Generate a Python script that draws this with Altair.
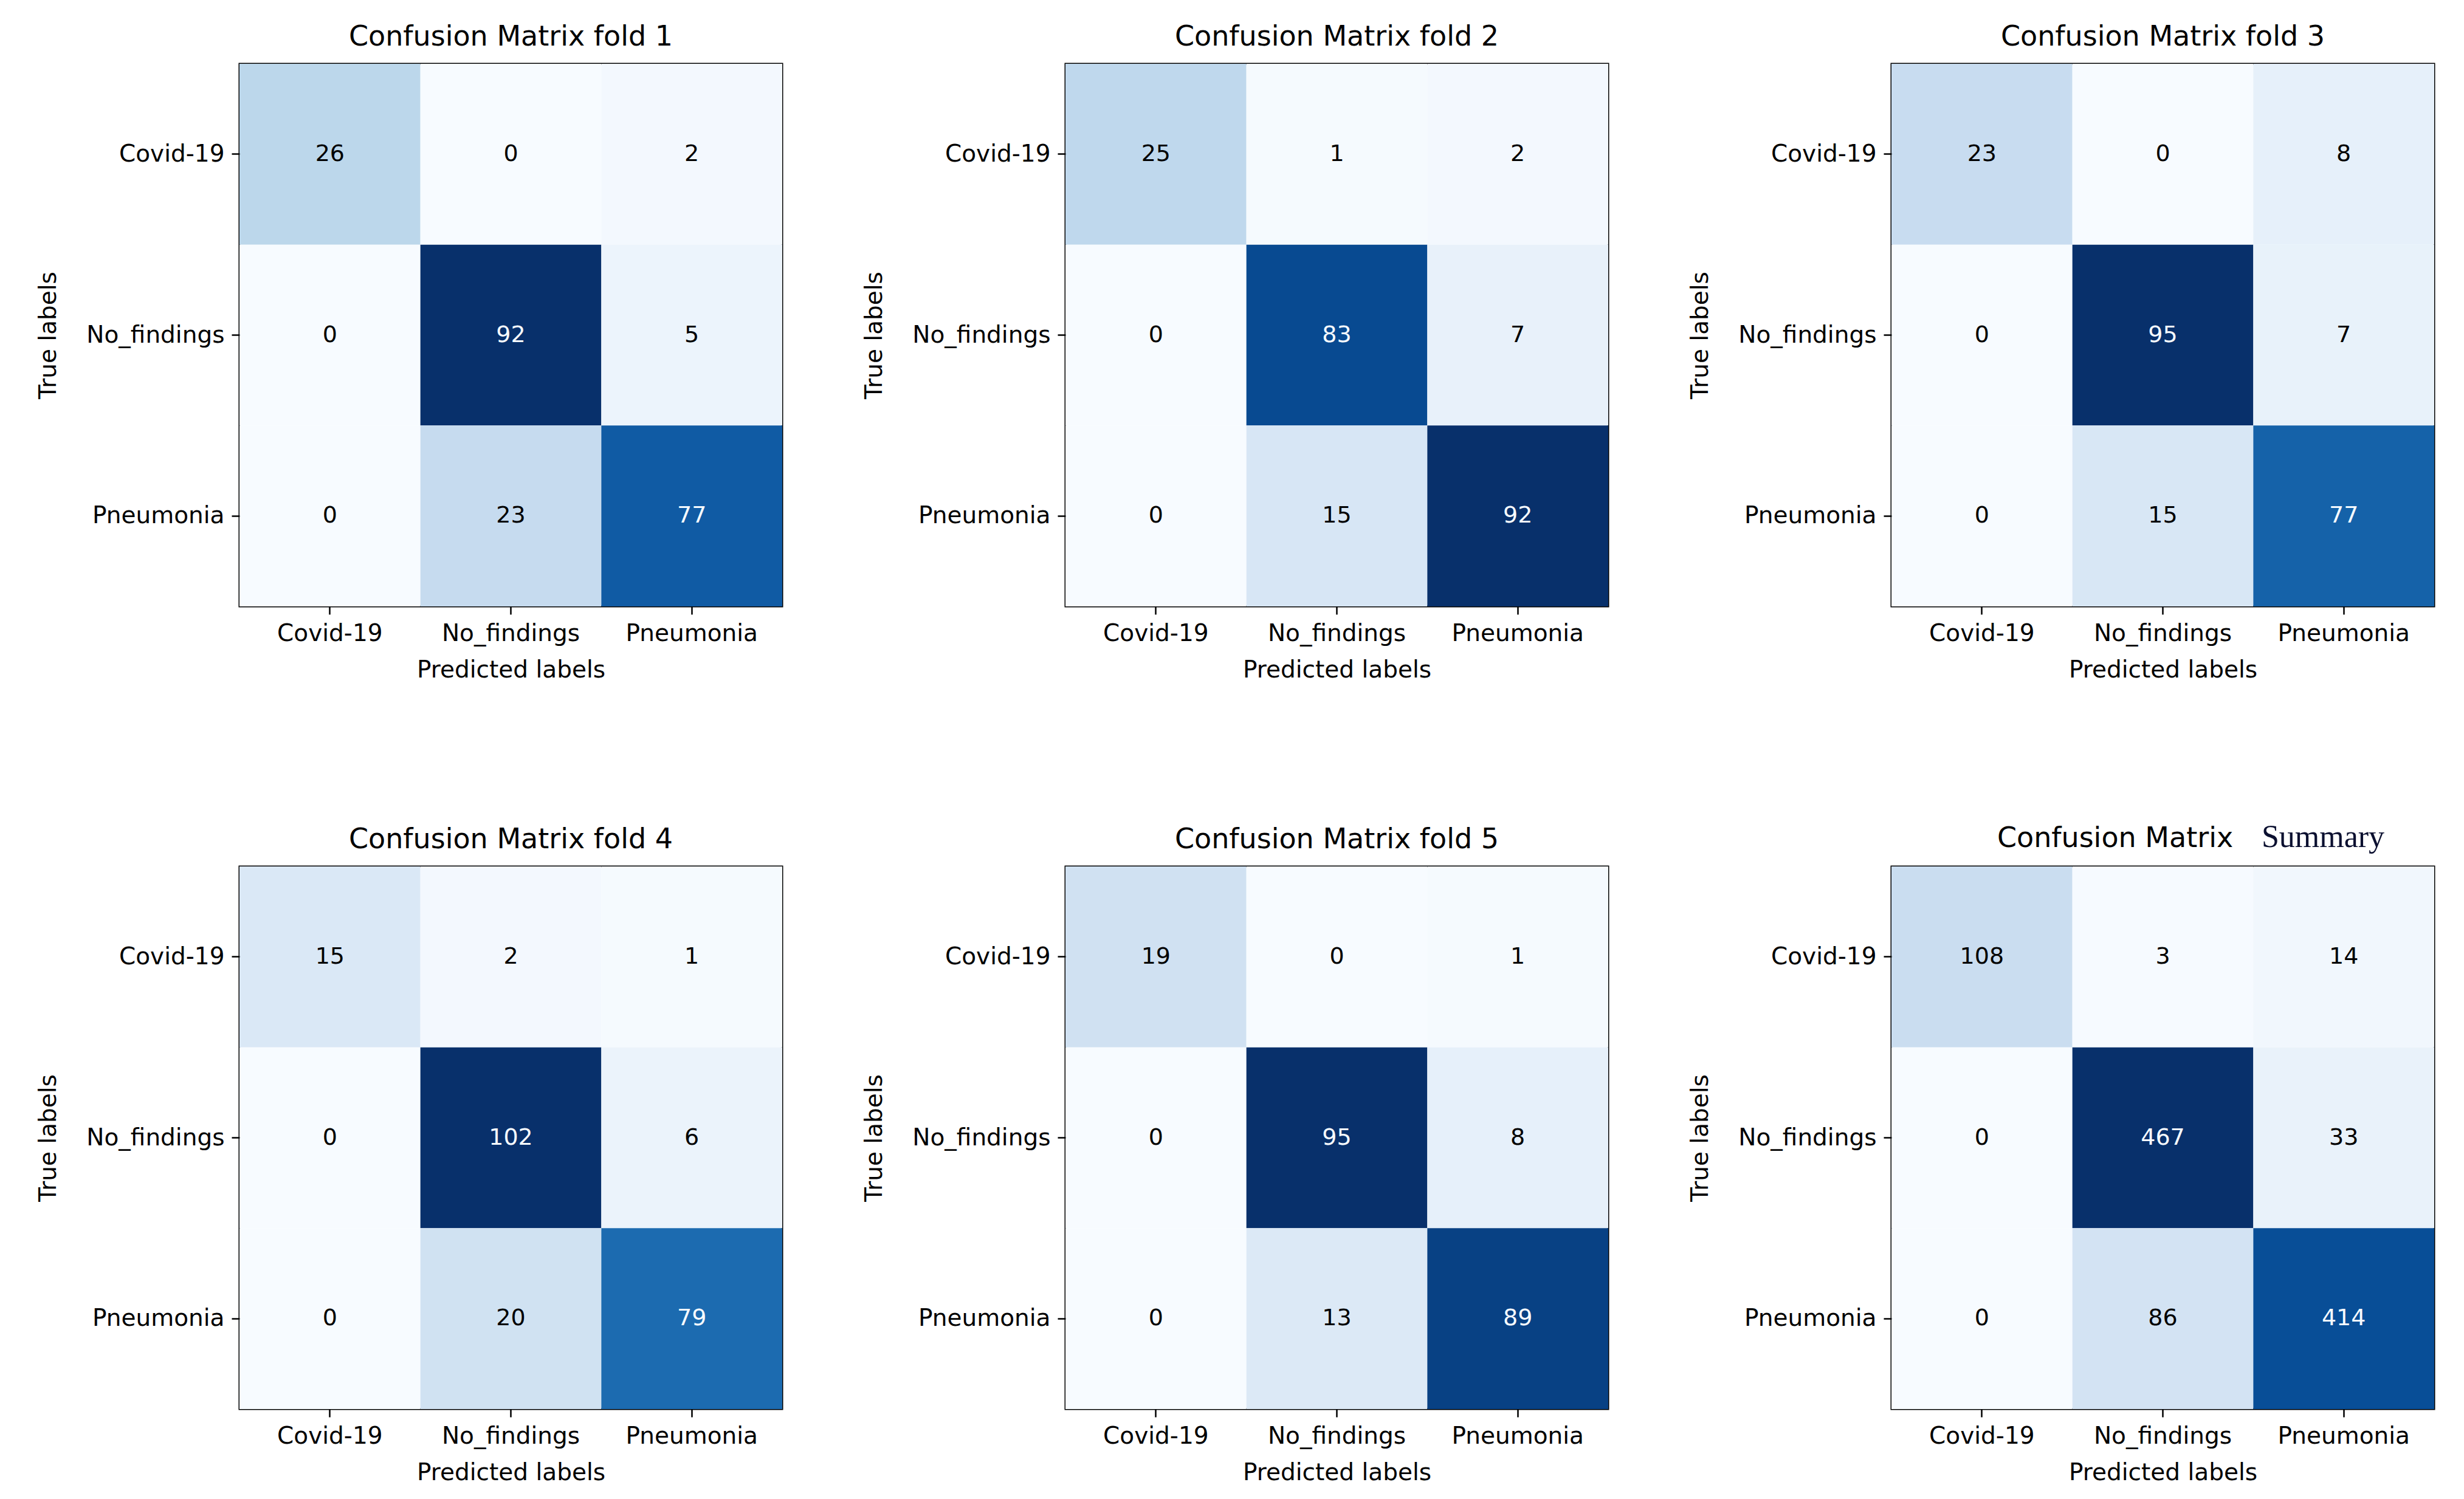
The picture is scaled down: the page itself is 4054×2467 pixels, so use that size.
import altair as alt
import numpy as np
import pandas as pd

classes = ["Covid-19", "No_findings", "Pneumonia"]

fold1 = [[26, 0, 2], [0, 92, 5], [0, 23, 77]]
fold2 = [[25, 1, 2], [0, 83, 7], [0, 15, 92]]
fold3 = [[23, 0, 8], [0, 95, 7], [0, 15, 77]]
fold4 = [[15, 2, 1], [0, 102, 6], [0, 20, 79]]
fold5 = [[19, 0, 1], [0, 95, 8], [0, 13, 89]]
summary = [[108, 3, 14], [0, 467, 33], [0, 86, 414]]

titles = ["Confusion Matrix fold 1", "Confusion Matrix fold 2", "Confusion Matrix fold 3",
          "Confusion Matrix fold 4", "Confusion Matrix fold 5", "Confusion Matrix"]
summary_word = "Summary"

blues = ["#f7fbff", "#deebf7", "#c6dbef", "#9ecae1", "#6baed6",
         "#4292c6", "#2171b5", "#08519c", "#08306b"]

FONT = "DejaVu Sans"
W = 893
H = 893


def panel(mat, title, is_summary=False):
    rows = []
    for i, t in enumerate(classes):
        for j, p in enumerate(classes):
            rows.append({"true": t, "pred": p, "v": mat[i][j]})
    df = pd.DataFrame(rows)
    vmin, vmax = float(df.v.min()), float(df.v.max())
    thresh = (vmin + vmax) / 2.0
    dom = [float(d) for d in np.linspace(vmin, vmax, len(blues))]

    common_axis = dict(
        labelAngle=0, labelFont=FONT, labelFontSize=39, labelColor="black",
        labelLimit=600,
        titleFont=FONT, titleFontSize=39, titleFontWeight="normal", titleColor="black",
        tickSize=13, tickWidth=2.5, tickColor="black", domain=False, grid=False,
        labelPadding=12,
    )
    x = alt.X("pred:N", sort=classes, title="Predicted labels",
              scale=alt.Scale(paddingInner=0, paddingOuter=0),
              axis=alt.Axis(titlePadding=21, **common_axis))
    y = alt.Y("true:N", sort=classes, title="True labels",
              scale=alt.Scale(paddingInner=0, paddingOuter=0),
              axis=alt.Axis(titlePadding=27, minExtent=268, maxExtent=268, **common_axis))

    base = alt.Chart(df)
    rect = base.mark_rect().encode(
        x=x, y=y,
        color=alt.Color("v:Q", scale=alt.Scale(domain=dom, range=blues, interpolate="rgb"),
                        legend=None),
    )
    txt_dark = base.transform_filter(alt.datum.v <= thresh).mark_text(
        font=FONT, fontSize=38, color="black").encode(x=x, y=y, text="v:Q")
    txt_light = base.transform_filter(alt.datum.v > thresh).mark_text(
        font=FONT, fontSize=38, color=blues[0]).encode(x=x, y=y, text="v:Q")

    layers = [rect, txt_dark, txt_light]
    if is_summary:
        head = alt.Chart(pd.DataFrame({"t": [title]})).mark_text(
            font=FONT, fontSize=46, color="black",
            align="center", baseline="alphabetic").encode(
            x=alt.value(368), y=alt.value(-32), text="t:N")
        word = alt.Chart(pd.DataFrame({"t": [summary_word]})).mark_text(
            font="Liberation Serif", fontSize=52, color="#0b1030",
            align="center", baseline="alphabetic").encode(
            x=alt.value(710), y=alt.value(-32), text="t:N")
        layers += [head, word]
        return alt.layer(*layers).properties(width=W, height=H)
    tparams = dict(text=title, font=FONT, fontSize=46, fontWeight="normal",
                   color="black", offset=20, anchor="middle")
    return alt.layer(*layers).properties(
        width=W, height=H, title=alt.TitleParams(**tparams))


mats = [fold1, fold2, fold3, fold4, fold5, summary]
panels = [panel(m, t, i == 5) for i, (m, t) in enumerate(zip(mats, titles))]

row1 = alt.hconcat(*panels[:3], spacing=128).resolve_scale(color="independent")
row2 = alt.hconcat(*panels[3:], spacing=128).resolve_scale(color="independent")

chart = alt.vconcat(row1, row2, spacing=226).resolve_scale(
    color="independent"
).properties(
    padding={"left": 50, "top": 28, "right": 5, "bottom": 5},
    background="white",
).configure_view(stroke="black", strokeWidth=3)

chart.save("out.html", embed_options={"renderer": "svg", "actions": False})
